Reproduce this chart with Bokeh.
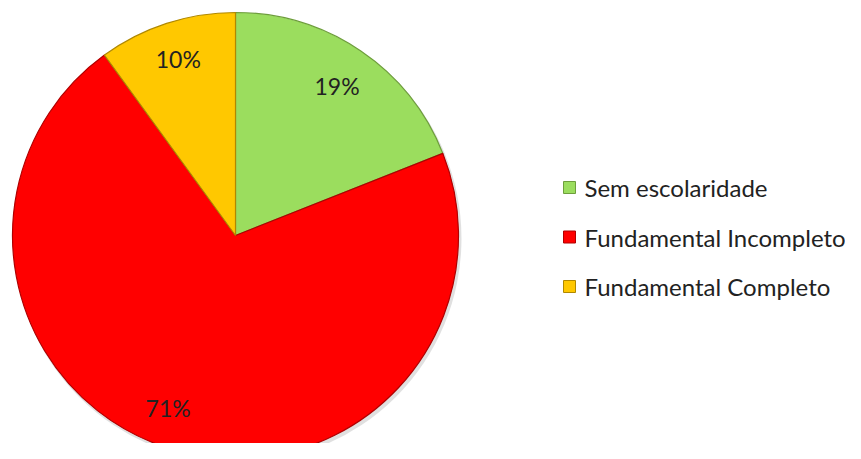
import math
from bokeh.plotting import figure
from bokeh.models import ColumnDataSource
from bokeh.core.properties import value
from bokeh.embed import file_html
from bokeh.resources import INLINE

categories = ["Sem escolaridade", "Fundamental Incompleto", "Fundamental Completo"]
percents = [19, 71, 10]
labels = ["19%", "71%", "10%"]
colors = ["#9BDD5E", "#FF0000", "#FFC800"]
edges = ["#6E9E3C", "#B00000", "#B08800"]

W, H = 845, 443
cx, cy, r = 235, 208, 223

p = figure(width=W, height=H, x_range=(0, W), y_range=(0, H),
           output_backend="svg", toolbar_location=None, min_border=0)
p.axis.visible = False
p.grid.visible = False
p.outline_line_color = None
p.background_fill_color = "white"

total = sum(percents)
starts, ends, lx, ly = [], [], [], []
a = math.pi / 2
label_r = [0.81, 0.83, 0.83]
label_shift = [0.0, -0.09, 0.0]
for i, v in enumerate(percents):
    span = v / total * 2 * math.pi
    starts.append(a)
    ends.append(a - span)
    mid = a - span / 2 + label_shift[i]
    lx.append(cx + label_r[i] * r * math.cos(mid))
    ly.append(cy + label_r[i] * r * math.sin(mid))
    a -= span

src = ColumnDataSource(dict(start=starts, end=ends, color=colors, edge=edges,
                            lx=lx, ly=ly, label=labels))

# soft shadow
p.circle(x=[cx + 2], y=[cy - 3], radius=r + 1, fill_color="#000000",
         fill_alpha=0.12, line_color=None)

p.wedge(x=cx, y=cy, radius=r, start_angle="start", end_angle="end",
        direction="clock", fill_color="color", line_color="edge",
        line_width=1.2, source=src)

p.text(x="lx", y="ly", text="label", source=src, text_align="center",
       text_baseline="middle", text_font=value("Lato"),
       text_font_size="23px", text_color="#222222")

# legend
leg_x = 563
leg_y0 = 443 - 187
leg_dy = 49.5
lgx = [leg_x + 6] * 3
lgy = [leg_y0 - i * leg_dy for i in range(3)]
lsrc = ColumnDataSource(dict(x=lgx, y=lgy, tx=[leg_x + 21] * 3, name=categories,
                             color=colors, edge=edges))
p.rect(x="x", y="y", width=12, height=12, fill_color="color",
       line_color="edge", line_width=1, source=lsrc)
p.text(x="tx", y="y", text="name", source=lsrc, text_baseline="middle",
       text_font=value("Lato"), text_font_size="24px", text_color="#222222")

open("out.html", "w").write(file_html(p, INLINE))
